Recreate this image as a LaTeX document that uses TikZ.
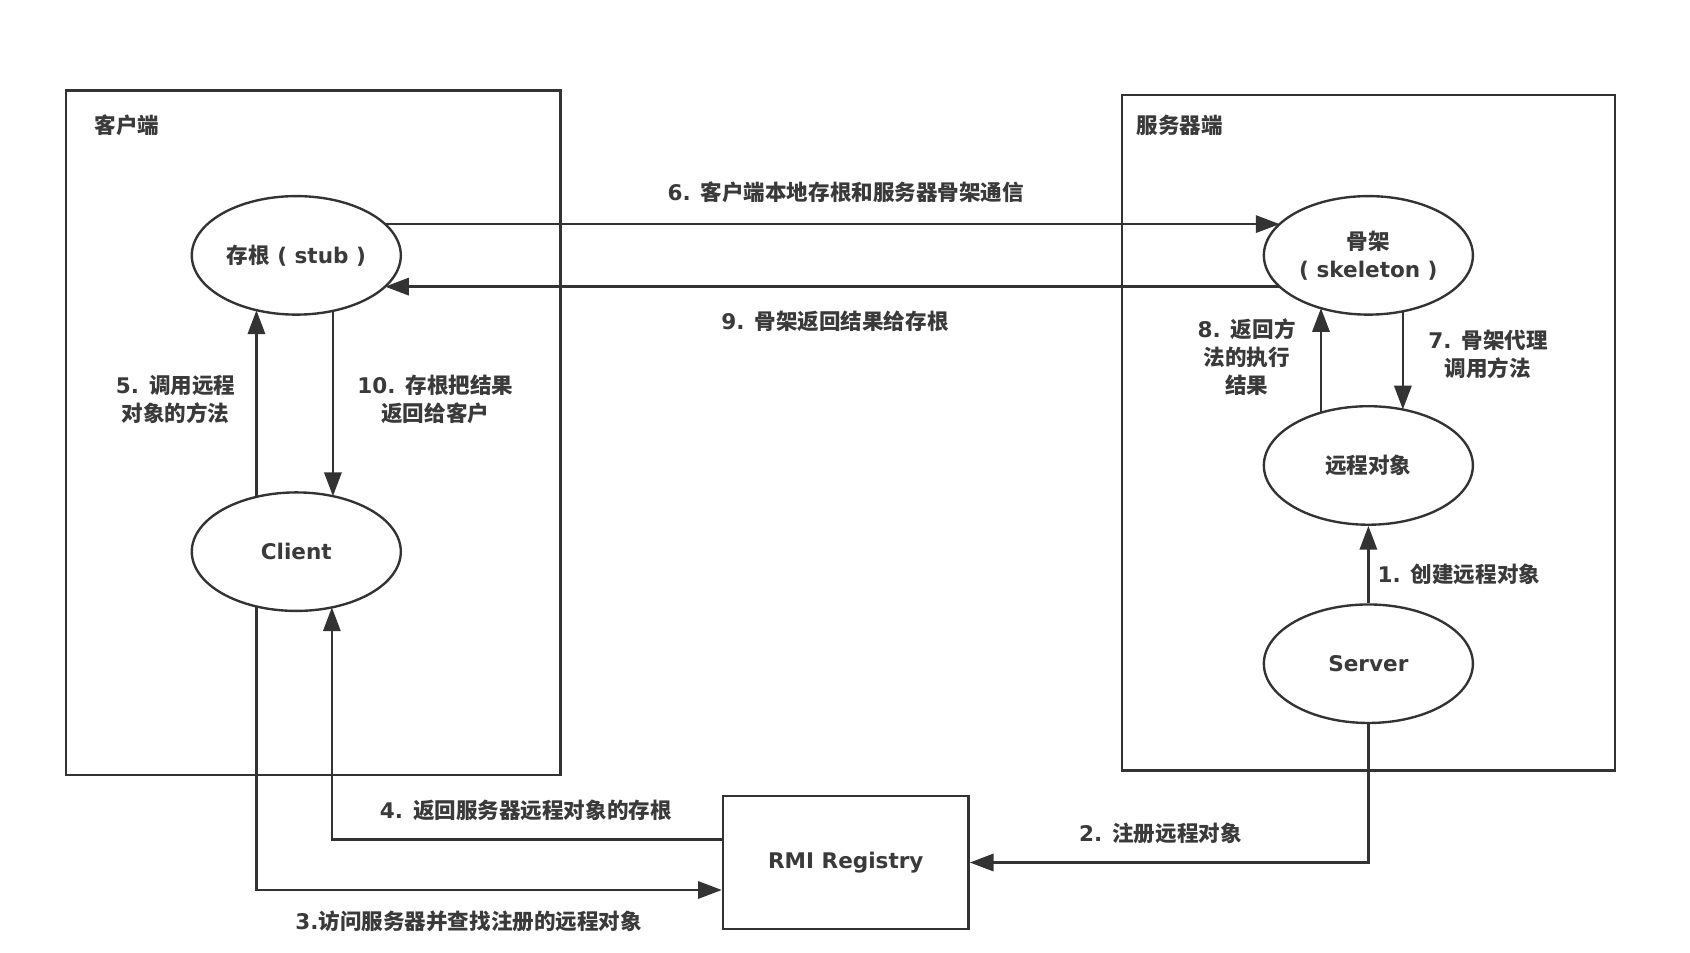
\documentclass[tikz,border=0pt]{standalone}
\usepackage{fontspec}
\setmainfont{DejaVu Sans}
\newfontfamily\cjkfont{Noto Sans CJK SC}
\usetikzlibrary{shapes.geometric,arrows.meta,calc}
\definecolor{ln}{HTML}{333333}
\definecolor{tx}{HTML}{3A3A3A}
\newcommand\zh[1]{{\cjkfont #1}}
\begin{document}
\begin{tikzpicture}[x=1pt,y=-1pt,
 every node/.style={font=\fontsize{20}{26}\selectfont\bfseries, text=tx},
 oval/.style={ellipse, draw=ln, line width=2.2pt, minimum width=194pt, minimum height=110pt, inner sep=0pt, align=center},
 frame/.style={draw=ln, line width=2.2pt, inner sep=0pt},
 arr/.style={draw=ln, line width=2.2pt, -{Triangle[length=22pt,width=16pt]}},
 lbl/.style={align=center, inner sep=0pt}]
\useasboundingbox (0,0) rectangle (1568.5,883.7);
\fill[white] (0,0) rectangle (1568.5,883.7);
% frames
\node[frame, minimum width=459pt, minimum height=635pt, anchor=north west] (cbox) at (60,83) {};
\node[frame, minimum width=458pt, minimum height=627pt, anchor=north west] (sbox) at (1040,87) {};
\node[lbl] (ctitle) at (118,116) {\zh{客户端}};
\node[lbl] (stitle) at (1095,116) {\zh{服务器端}};
% nodes
\node[oval] (stub) at (275,237) {\zh{存根} ( stub )};
\node[oval] (client) at (275,512) {Client};
\node[oval] (skel) at (1270,237) {\zh{骨架}\\( skeleton )};
\node[oval] (remote) at (1270,432) {\zh{远程对象}};
\node[oval] (server) at (1270,616) {Server};
\node[frame, minimum width=228pt, minimum height=123pt] (reg) at (785,800.5) {RMI Registry};
% arrows
\draw[arr] ($(stub.center)+(82.4,-29)$) -- ($(skel.center)+(-82.4,-29)$);
\draw[arr] ($(skel.center)+(-82.4,29)$) -- ($(stub.center)+(82.4,29)$);
\draw[arr] ($(client.center)+(-37,-51)$) -- ($(stub.center)+(-37,51)$);
\draw[arr] ($(stub.center)+(34,51.5)$) -- ($(client.center)+(34,-51.5)$);
\draw[arr] ($(remote.center)+(-44,-49)$) -- ($(skel.center)+(-44,49)$);
\draw[arr] ($(skel.center)+(32,52)$) -- ($(remote.center)+(32,-52)$);
\draw[arr] (server.north) -- (remote.south);
\draw[arr] (server.south) |- (reg.east);
\draw[arr] ($(client.center)+(-37,51)$) |- ($(reg.west)+(0,25.5)$);
\draw[arr] ($(reg.west)+(0,-21.5)$) -| ($(client.center)+(33,51.7)$);
% labels
\node[lbl] (l6) at (785,178) {6. \zh{客户端本地存根和服务器骨架通信}};
\node[lbl] (l9) at (775,298) {9. \zh{骨架返回结果给存根}};
\node[lbl] (l5) at (163,371) {5. \zh{调用远程}\\\zh{对象的方法}};
\node[lbl] (l10) at (404,371) {10. \zh{存根把结果}\\\zh{返回给客户}};
\node[lbl] (l8) at (1157,331) {8. \zh{返回方}\\\zh{法的执行}\\\zh{结果}};
\node[lbl] (l7) at (1381,328.5) {7. \zh{骨架代理}\\\zh{调用方法}};
\node[lbl] (l1) at (1354,533) {1. \zh{创建远程对象}};
\node[lbl] (l2) at (1077,773) {2. \zh{注册远程对象}};
\node[lbl] (l4) at (488,752) {4. \zh{返回服务器远程对象的存根}};
\node[lbl] (l3) at (435,855) {3.\zh{访问服务器并查找注册的远程对象}};
\end{tikzpicture}
\end{document}
